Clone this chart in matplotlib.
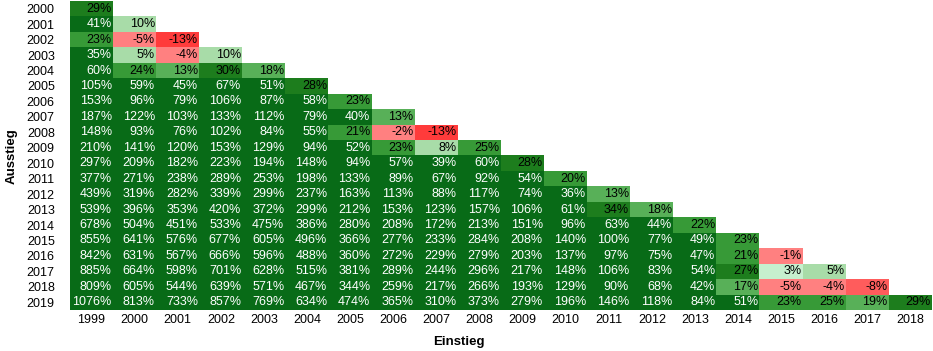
import numpy as np
import matplotlib
matplotlib.use("Agg")
import matplotlib.pyplot as plt
from matplotlib.colors import ListedColormap, BoundaryNorm

plt.rcParams['font.family'] = ['Liberation Sans', 'DejaVu Sans']

einstieg = [str(y) for y in range(1999, 2019)]
ausstieg = [str(y) for y in range(2000, 2020)]

r2000 = [29]
r2001 = [41, 10]
r2002 = [23, -5, -13]
r2003 = [35, 5, -4, 10]
r2004 = [60, 24, 13, 30, 18]
r2005 = [105, 59, 45, 67, 51, 28]
r2006 = [153, 96, 79, 106, 87, 58, 23]
r2007 = [187, 122, 103, 133, 112, 79, 40, 13]
r2008 = [148, 93, 76, 102, 84, 55, 21, -2, -13]
r2009 = [210, 141, 120, 153, 129, 94, 52, 23, 8, 25]
r2010 = [297, 209, 182, 223, 194, 148, 94, 57, 39, 60, 28]
r2011 = [377, 271, 238, 289, 253, 198, 133, 89, 67, 92, 54, 20]
r2012 = [439, 319, 282, 339, 299, 237, 163, 113, 88, 117, 74, 36, 13]
r2013 = [539, 396, 353, 420, 372, 299, 212, 153, 123, 157, 106, 61, 34, 18]
r2014 = [678, 504, 451, 533, 475, 386, 280, 208, 172, 213, 151, 96, 63, 44, 22]
r2015 = [855, 641, 576, 677, 605, 496, 366, 277, 233, 284, 208, 140, 100, 77, 49, 23]
r2016 = [842, 631, 567, 666, 596, 488, 360, 272, 229, 279, 203, 137, 97, 75, 47, 21, -1]
r2017 = [885, 664, 598, 701, 628, 515, 381, 289, 244, 296, 217, 148, 106, 83, 54, 27, 3, 5]
r2018 = [809, 605, 544, 639, 571, 467, 344, 259, 217, 266, 193, 129, 90, 68, 42, 17, -5, -4, -8]
r2019 = [1076, 813, 733, 857, 769, 634, 474, 365, 310, 373, 279, 196, 146, 118, 84, 51, 23, 25, 19, 29]

rows = [r2000, r2001, r2002, r2003, r2004, r2005, r2006, r2007, r2008, r2009,
        r2010, r2011, r2012, r2013, r2014, r2015, r2016, r2017, r2018, r2019]

n_r, n_c = len(ausstieg), len(einstieg)
mat = np.full((n_r, n_c), np.nan)
for i, r in enumerate(rows):
    mat[i, :len(r)] = r
masked = np.ma.masked_invalid(mat)

bounds = [-1000, -10, -6, 0, 5, 12, 20, 26, 35, 100000]
colors = ['#FF3B3B', '#FF5C5C', '#FF8080', '#C6EFCE', '#A8DCA8',
          '#58B058', '#379A37', '#1D7D1D', '#086B17']
cmap = ListedColormap(colors)
cmap.set_bad('white')
norm = BoundaryNorm(bounds, cmap.N)

W, H = 933, 351
fig = plt.figure(figsize=(W / 100, H / 100), dpi=100)
ax = fig.add_axes([70 / W, 1 - 310 / H, 862 / W, 309 / H])
ax.imshow(masked, cmap=cmap, norm=norm, aspect='auto', interpolation='nearest')

for i in range(n_r):
    for j in range(n_c):
        v = mat[i, j]
        if np.isnan(v):
            continue
        ax.text(j + 0.47, i, f"{int(v)}%", ha='right', va='center',
                fontsize=9, color='white' if v >= 35 else 'black')

ax.set_xticks(range(n_c))
ax.set_xticklabels(einstieg, fontsize=9)
ax.set_yticks(range(n_r))
ax.set_yticklabels(ausstieg, fontsize=9)
ax.tick_params(length=0, pad=3)
ax.tick_params(axis='y', pad=11)
for s in ax.spines.values():
    s.set_visible(False)

fig.text(459 / W, 1 - 342 / H, 'Einstieg', ha='center', va='center',
         fontsize=9.5, fontweight='bold')
fig.text(12 / W, 1 - 156 / H, 'Ausstieg', ha='center', va='center',
         fontsize=9.5, fontweight='bold', rotation=90)

fig.savefig('out.png', dpi=100)
